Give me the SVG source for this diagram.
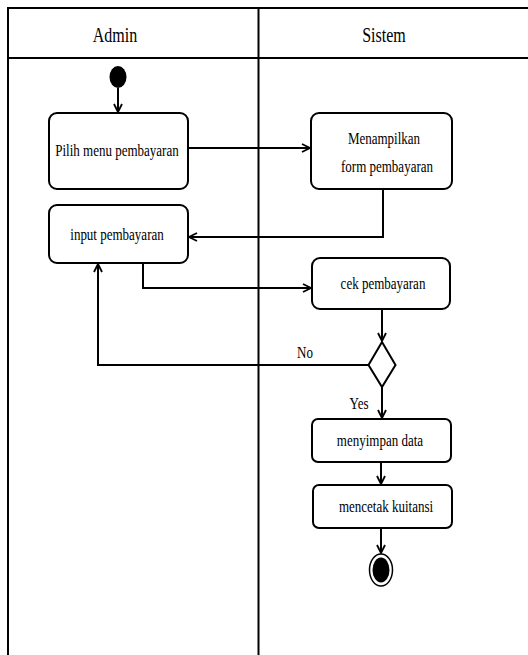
<svg xmlns="http://www.w3.org/2000/svg" width="528" height="655" viewBox="0 0 528 655">
  <style>
    .frame { fill: none; stroke: #000; stroke-width: 2; }
    .act { fill: #fff; stroke: #000; stroke-width: 2; }
    .edge { fill: none; stroke: #000; stroke-width: 2; }
    .lbl { font-family: "Liberation Serif", "Times New Roman", serif; font-size: 13px; fill: #000; text-anchor: middle; }
    .hdr { font-family: "Liberation Serif", "Times New Roman", serif; font-size: 16px; fill: #000; text-anchor: middle; }
  </style>
  <defs>
    <marker id="arrow" viewBox="0 0 10 10" refX="9" refY="5" markerWidth="10" markerHeight="10" markerUnits="userSpaceOnUse" orient="auto">
      <path d="M1,1 L9,5 L1,9" fill="none" stroke="#000" stroke-width="1.8"/>
    </marker>
  </defs>
  <rect width="528" height="655" fill="#fff"/>

  <!-- swimlanes -->
  <g id="lanes">
    <path class="frame" d="M8,655 V8 H528"/>
    <path class="frame" d="M8,58 H528"/>
    <path class="frame" d="M258.5,8 V655"/>
    <text class="hdr" transform="translate(115,42) scale(1,1.3)">Admin</text>
    <text class="hdr" transform="translate(384,42) scale(1,1.3)">Sistem</text>
  </g>

  <!-- connectors -->
  <g id="connectors">
    <path class="edge" d="M118,88 V112" marker-end="url(#arrow)"/>
    <path class="edge" d="M188,148 H310" marker-end="url(#arrow)"/>
    <path class="edge" d="M383,189 V237 H189" marker-end="url(#arrow)"/>
    <path class="edge" d="M143,263 V288 H311" marker-end="url(#arrow)"/>
    <path class="edge" d="M382,309 V341" marker-end="url(#arrow)"/>
    <path class="edge" d="M368,365 H98 V264" marker-end="url(#arrow)"/>
    <path class="edge" d="M382,387 V418" marker-end="url(#arrow)"/>
    <path class="edge" d="M381,462 V484" marker-end="url(#arrow)"/>
    <path class="edge" d="M381,528 V553" marker-end="url(#arrow)"/>
    <text class="lbl" transform="translate(305,358) scale(1,1.35)">No</text>
    <text class="lbl" transform="translate(359,409) scale(1,1.35)">Yes</text>
  </g>

  <g id="start">
    <ellipse cx="118" cy="77" rx="8.5" ry="11" fill="#000"/>
  </g>

  <g id="pilih-menu">
    <rect class="act" x="49" y="113" width="139" height="76" rx="8"/>
    <text class="lbl" transform="translate(117,156) scale(1,1.35)">Pilih menu pembayaran</text>
  </g>

  <g id="menampilkan-form">
    <rect class="act" x="311" y="113" width="141" height="76" rx="8"/>
    <text class="lbl" transform="translate(384,144) scale(1,1.35)">Menampilkan</text>
    <text class="lbl" transform="translate(387,172) scale(1,1.35)">form pembayaran</text>
  </g>

  <g id="input-pembayaran">
    <rect class="act" x="49" y="205" width="139" height="58" rx="8"/>
    <text class="lbl" transform="translate(117,240) scale(1,1.35)">input pembayaran</text>
  </g>

  <g id="cek-pembayaran">
    <rect class="act" x="312" y="258" width="138" height="51" rx="8"/>
    <text class="lbl" transform="translate(383,289) scale(1,1.35)">cek pembayaran</text>
  </g>

  <g id="decision">
    <polygon class="act" points="382,342 395.5,365 382,387 368.5,365"/>
  </g>

  <g id="menyimpan-data">
    <rect class="act" x="312" y="419" width="139" height="43" rx="6"/>
    <text class="lbl" transform="translate(380,446) scale(1,1.35)">menyimpan data</text>
  </g>

  <g id="mencetak-kuitansi">
    <rect class="act" x="313" y="485" width="139" height="43" rx="6"/>
    <text class="lbl" transform="translate(386,512) scale(1,1.35)">mencetak kuitansi</text>
  </g>

  <g id="end">
    <ellipse cx="381" cy="570" rx="11.5" ry="16" fill="#fff" stroke="#000" stroke-width="1.5"/>
    <ellipse cx="381" cy="570" rx="8.5" ry="12.5" fill="#000"/>
  </g>
</svg>
